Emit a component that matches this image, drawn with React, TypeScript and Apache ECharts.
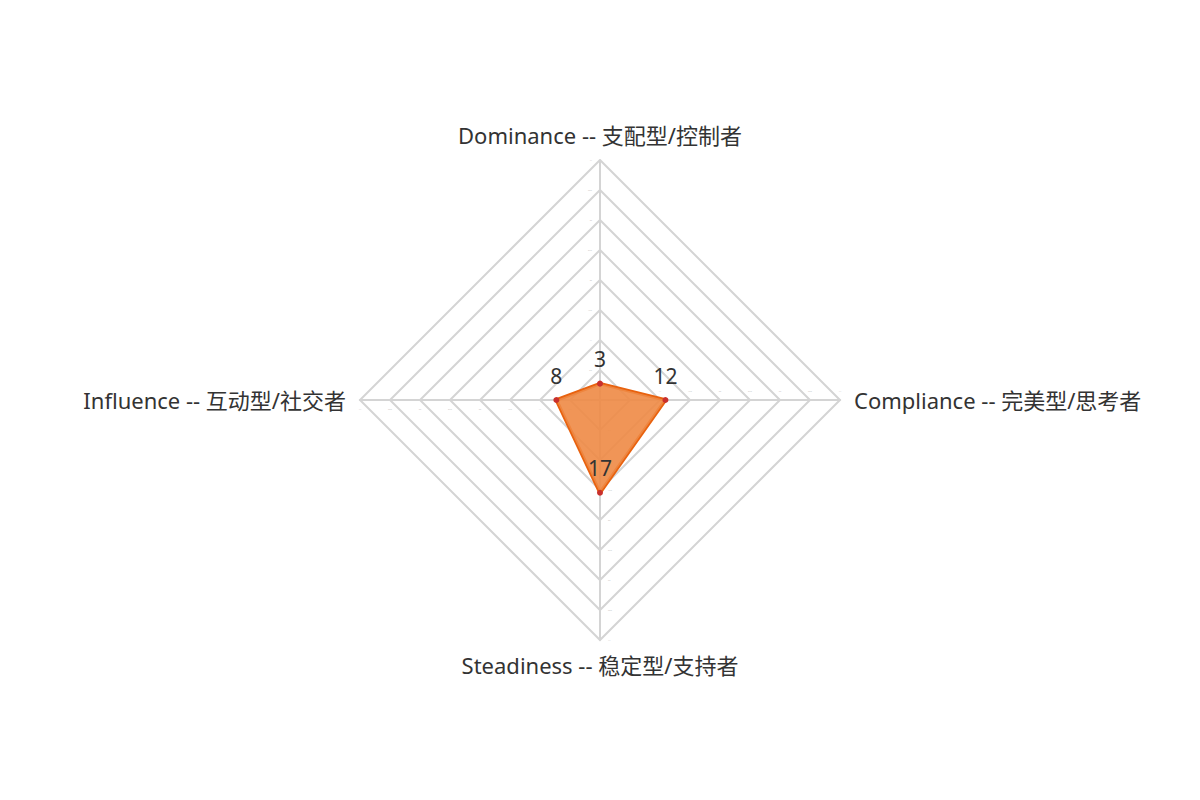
import React, { useEffect, useRef } from "react";
import * as echarts from "echarts";

const indicatorNames = [
  "Dominance -- 支配型/控制者",
  "Influence -- 互动型/社交者",
  "Steadiness -- 稳定型/支持者",
  "Compliance -- 完美型/思考者",
];
const indicatorMax = 44;
const scores = [3, 8, 17, 12];

export default function App() {
  const ref = useRef<HTMLDivElement>(null);
  useEffect(() => {
    document.body.style.margin = "0";
    const chart = echarts.init(ref.current!, null, { renderer: "svg" });
    chart.setOption({
      animation: false,
      textStyle: { fontFamily: "'Noto Sans', 'Noto Sans CJK SC', sans-serif" },
      radar: {
        center: [600, 400],
        radius: 240,
        shape: "polygon",
        splitNumber: 8,
        indicator: indicatorNames.map((name) => ({ name, max: indicatorMax })),
        axisName: { color: "#333", fontSize: 22 },
        nameGap: 14,
        splitLine: { lineStyle: { color: "#d4d4d4", width: 2 } },
        splitArea: { show: false },
        axisLine: { lineStyle: { color: "#d4d4d4", width: 2 } },
        axisTick: { show: false },
        axisLabel: { show: true, fontSize: 2, color: "#bbb", margin: 8 },
      },
      series: [
        {
          type: "radar",
          symbol: "circle",
          symbolSize: 6,
          itemStyle: { color: "#c9302c" },
          lineStyle: { color: "#e8620f", width: 3.5 },
          areaStyle: { color: "#ee8a45", opacity: 0.9 },
          label: {
            show: true,
            position: "top",
            fontSize: 21,
            color: "#333",
            distance: 11,
          },
          data: [{ value: scores, name: "DISC" }],
        },
      ],
    });
    return () => chart.dispose();
  }, []);
  return (
    <div
      ref={ref}
      style={{ position: "absolute", left: 0, top: 0, width: 1200, height: 800 }}
    />
  );
}
